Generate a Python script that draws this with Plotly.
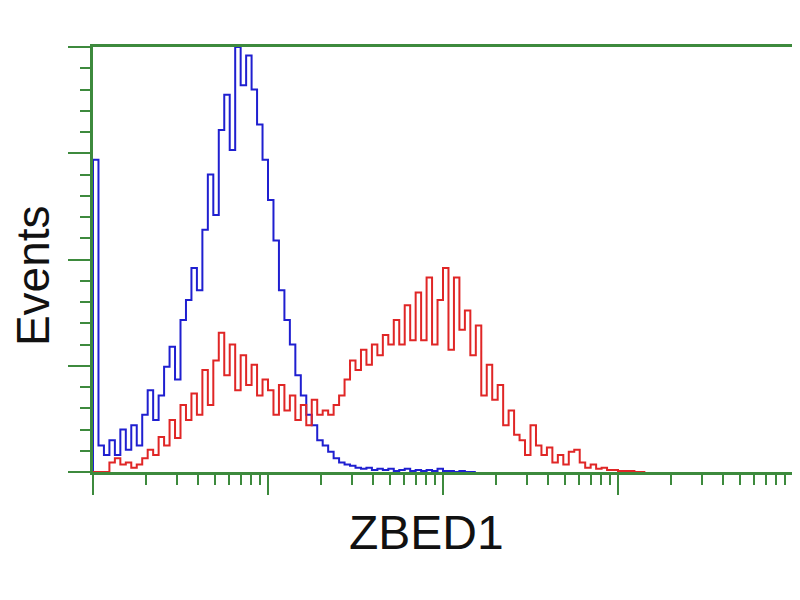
import numpy as np
import plotly.graph_objects as go

# Histogram channels: 128 log-spaced channels spanning 4 decades (1 .. 10^4)
n_channels = 128
decades = 4

# Counts per channel, y scale 0..400
blue_counts = [294, 25, 16, 30, 16, 40, 21, 44, 25, 54,
               77, 49, 72, 99, 118, 87, 143, 162, 192, 171,
               228, 280, 242, 322, 355, 303, 400, 364, 392, 360,
               327, 294, 256, 218, 171, 143, 120, 91, 72, 54,
               44, 30, 25, 19, 13, 9, 7, 6, 4, 3,
               4, 2, 3, 2, 3, 1, 2, 3, 1, 2,
               1, 2, 1, 3, 1, 1, 0, 1, 0, 0]

red_counts = [0, 0, 0, 9, 13, 7, 9, 4, 7, 13,
              21, 16, 33, 25, 49, 32, 63, 49, 74, 54,
              96, 63, 105, 131, 91, 120, 77, 110, 82, 101,
              72, 87, 77, 54, 82, 58, 72, 49, 63, 44,
              68, 54, 58, 54, 63, 72, 87, 105, 96, 115,
              101, 120, 110, 129, 120, 143, 120, 157, 124, 169,
              124, 183, 120, 162, 192, 115, 183, 134, 152, 110,
              138, 72, 101, 68, 82, 44, 58, 35, 30, 16,
              44, 25, 16, 23, 9, 16, 7, 19, 21, 9,
              4, 7, 3, 4, 2, 2, 1, 1, 1, 0,
              0]

x_title = "ZBED1"
y_title = "Events"


def edges(counts):
    idx = np.arange(len(counts) + 1)
    return 10 ** (idx * decades / n_channels)


def step_xy(counts):
    e = edges(counts)
    x = [e[0]] + list(e)
    y = [0] + list(counts) + [0]
    return x, y


green = "#3d8a3d"
fig = go.Figure()

bx, by = step_xy(blue_counts)
rx, ry = step_xy(red_counts)

fig.add_trace(go.Scatter(x=bx, y=by, mode="lines", line_shape="hv",
                         line=dict(color="#1f1fd0", width=2), showlegend=False))
fig.add_trace(go.Scatter(x=rx, y=ry, mode="lines", line_shape="hv",
                         line=dict(color="#e02626", width=2), showlegend=False))

fig.update_layout(
    width=800, height=600,
    margin=dict(l=85, r=15, t=39, b=136),
    paper_bgcolor="white", plot_bgcolor="white",
    font=dict(family="Liberation Sans, Arial, sans-serif", color="black"),
    annotations=[
        dict(text=x_title, xref="paper", yref="paper", x=0.477, y=-0.1435,
             xanchor="center", yanchor="middle", showarrow=False,
             font=dict(size=48, color="#111111")),
        dict(text=y_title, xref="paper", yref="paper", x=-0.0857, y=0.461,
             xanchor="center", yanchor="middle", showarrow=False, textangle=-90,
             font=dict(size=46, color="#111111")),
    ],
)

fig.update_xaxes(
    type="log", range=[0, decades], showgrid=False, zeroline=False,
    showline=True, linecolor=green, linewidth=3, mirror=True, automargin=False,
    ticks="outside", ticklen=20, tickwidth=2, tickcolor=green, dtick=1,
    showticklabels=False,
    minor=dict(ticks="outside", ticklen=10, tickwidth=2, tickcolor=green, dtick="D1", showgrid=False),
)
fig.update_yaxes(
    range=[0, 400], showgrid=False, zeroline=False,
    showline=True, linecolor=green, linewidth=3, mirror=True, automargin=False,
    ticks="outside", ticklen=22, tickwidth=2, tickcolor=green, dtick=100,
    showticklabels=False,
    minor=dict(ticks="outside", ticklen=10, tickwidth=2, tickcolor=green, dtick=20, showgrid=False),
)

fig.write_html("out.html")
